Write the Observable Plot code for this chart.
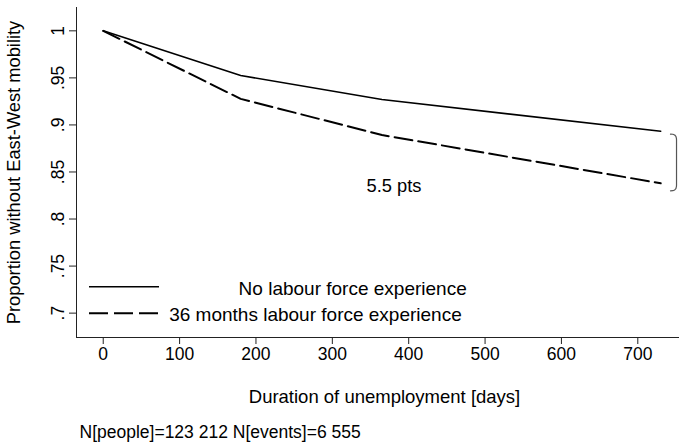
<!DOCTYPE html>
<html>
<head>
<meta charset="utf-8">
<script src="https://cdn.jsdelivr.net/npm/d3@7"></script>
<script src="https://cdn.jsdelivr.net/npm/@observablehq/plot@0.6"></script>
<style>
  body { margin: 0; background: #fff; }
  #chart { width: 679px; height: 448px; }
  #chart svg { display: block; }
</style>
</head>
<body>
<div id="chart"></div>
<script>
// ---- data ----
const days = [0, 180, 365, 730];
const noExperience = [1, 0.9525, 0.927, 0.8933];
const months36 = [1, 0.9277, 0.8893, 0.838];
const seriesNames = ["No labour force experience", "36 months labour force experience"];

const xTicks = [0, 100, 200, 300, 400, 500, 600, 700];
const yTicks = [0.7, 0.75, 0.8, 0.85, 0.9, 0.95, 1];
const yTickLabels = [".7", ".75", ".8", ".85", ".9", ".95", "1"];

const xDomain = [-35, 754.6];
const yDomain = [0.6741, 1.0248];

// brace marking the gap at the end of the curves
const braceDays = [742.8, 745.9, 748.3, 749.9, 750.6, 750.7, 750.7, 750.6, 749.9, 748.3, 745.9, 742.8];
const braceValues = [0.8902, 0.8901, 0.8893, 0.8878, 0.8856, 0.884, 0.8362, 0.8346, 0.8324, 0.8309, 0.8301, 0.8300];
const gapLabel = "5.5 pts";

const xTitle = "Duration of unemployment [days]";
const yTitle = "Proportion without East-West mobility";
const caption = "N[people]=123 212 N[events]=6 555";

// ---- tables ----
const noExpRows = days.map((d, i) => ({day: d, value: noExperience[i]}));
const m36Rows = days.map((d, i) => ({day: d, value: months36[i]}));
const braceRows = braceDays.map((d, i) => ({day: d, value: braceValues[i]}));

const font = "'Liberation Sans', Arial, Helvetica, sans-serif";

const chart = Plot.plot({
  width: 679,
  height: 448,
  marginLeft: 76,
  marginRight: 0,
  marginTop: 7,
  marginBottom: 111,
  style: {fontFamily: font, color: "#000", background: "#fff", overflow: "visible"},
  x: {domain: xDomain, axis: null},
  y: {domain: yDomain, axis: null},
  marks: [
    Plot.ruleX([xDomain[0]], {stroke: "#222", strokeWidth: 1}),
    Plot.ruleY([yDomain[0]], {stroke: "#222", strokeWidth: 1}),
    Plot.axisX({ticks: xTicks, tickSize: 7, tickPadding: 3, fontSize: 17.5, label: null, tickFormat: d => String(d), stroke: "#222"}),
    Plot.axisY({ticks: yTicks, tickSize: 7, tickPadding: 6, tickRotate: -90, fontSize: 17.5, label: null,
      tickFormat: d => yTickLabels[yTicks.indexOf(d)], stroke: "#222"}),
    Plot.line(noExpRows, {x: "day", y: "value", stroke: "#000", strokeWidth: 1.6}),
    Plot.line(m36Rows, {x: "day", y: "value", stroke: "#000", strokeWidth: 2, strokeDasharray: "18,6"}),
    Plot.line(braceRows, {x: "day", y: "value", stroke: "#555", strokeWidth: 1.2}),
    Plot.text([gapLabel], {frameAnchor: "top-left", textAnchor: "start", lineAnchor: "bottom", dx: 290, dy: 184, fontSize: 18.3, fill: "#000"}),
    Plot.text([yTitle], {frameAnchor: "left", rotate: -90, textAnchor: "middle", lineAnchor: "middle", dx: -62, fontSize: 18.3, fill: "#000"}),
    Plot.text([xTitle], {frameAnchor: "bottom", textAnchor: "middle", lineAnchor: "bottom", dx: 6.5, dy: 65.7, fontSize: 18.5, fill: "#000"}),
    Plot.text([caption], {frameAnchor: "bottom-left", textAnchor: "start", lineAnchor: "bottom", dx: 3, dy: 100.3, fontSize: 17.5, fill: "#000"})
  ]
});

document.getElementById("chart").appendChild(chart);

// ---- legend (inside the plot area, lower left) ----
const svg = d3.select(chart);
const lg = svg.append("g").attr("font-family", font).attr("font-size", 19)
  .attr("fill", "#000").attr("text-anchor", "start");
lg.append("line").attr("x1", 89).attr("x2", 159).attr("y1", 286.7).attr("y2", 286.7)
  .attr("stroke", "#000").attr("stroke-width", 1.6);
lg.append("line").attr("x1", 89).attr("x2", 159).attr("y1", 313.3).attr("y2", 313.3)
  .attr("stroke", "#000").attr("stroke-width", 2).attr("stroke-dasharray", "19,6");
lg.append("text").attr("x", 238.6).attr("y", 295).attr("text-anchor", "start").text(seriesNames[0]);
lg.append("text").attr("x", 169.2).attr("y", 321).attr("text-anchor", "start").text(seriesNames[1]);
</script>
</body>
</html>
